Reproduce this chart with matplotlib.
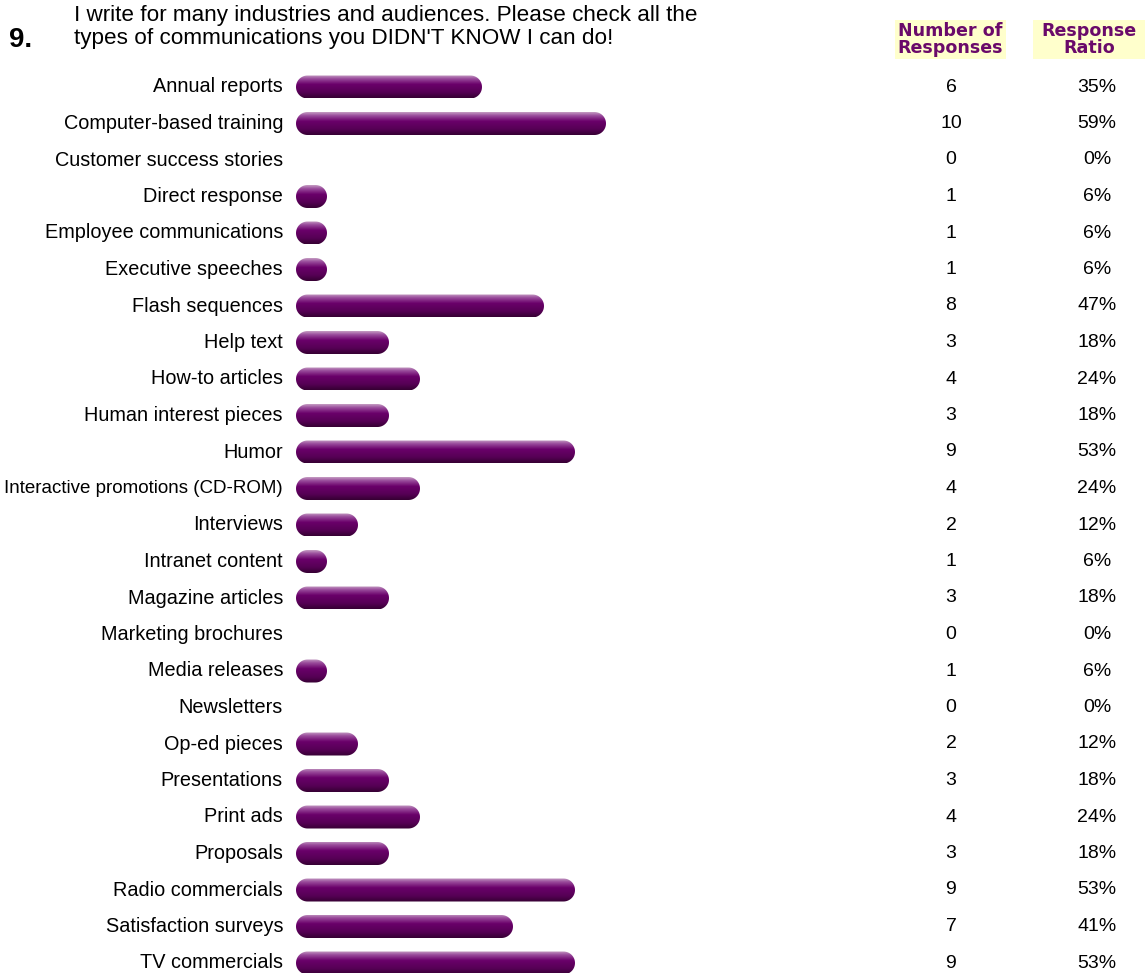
import numpy as np
import matplotlib
matplotlib.use("Agg")
from matplotlib import pyplot as plt
from matplotlib.patches import Polygon, Rectangle
from matplotlib.colors import LinearSegmentedColormap

categories = ["Annual reports", "Computer-based training", "Customer success stories",
              "Direct response", "Employee communications", "Executive speeches",
              "Flash sequences", "Help text", "How-to articles", "Human interest pieces",
              "Humor", "Interactive promotions (CD-ROM)", "Interviews", "Intranet content",
              "Magazine articles", "Marketing brochures", "Media releases", "Newsletters",
              "Op-ed pieces", "Presentations", "Print ads", "Proposals",
              "Radio commercials", "Satisfaction surveys", "TV commercials"]
responses = [6, 10, 0, 1, 1, 1, 8, 3, 4, 3, 9, 4, 2, 1, 3, 0, 1, 0, 2, 3, 4, 3, 9, 7, 9]
ratios = ["35%", "59%", "0%", "6%", "6%", "6%", "47%", "18%", "24%", "18%", "53%", "24%",
          "12%", "6%", "18%", "0%", "6%", "0%", "12%", "18%", "24%", "18%", "53%", "41%", "53%"]

W, H = 1145, 973
fig = plt.figure(figsize=(W / 100, H / 100), dpi=100)
ax = fig.add_axes([0, 0, 1, 1])
ax.axis('off')

# pixel layout: bars start at x=296, ~31px per response, rows 36.5px apart from y=87
px_count = 31.0
px_row = 36.5
x0, y0 = 296, 87

bar_h = 23 / px_row
rx = 11.5 / px_count   # end-cap radius in x units
ry = bar_h / 2

cmap = LinearSegmentedColormap.from_list("bar", [
    (0.0, "#c49bc2"), (0.15, "#9a4c9c"), (0.4, "#6a006a"),
    (0.75, "#560055"), (1.0, "#360033")])
grad = np.linspace(0, 1, 64).reshape(-1, 1)


def pill(x_end, yc):
    t = np.linspace(np.pi / 2, 3 * np.pi / 2, 30)
    left = np.column_stack([rx + rx * np.cos(t), yc - ry * np.sin(t)])
    t2 = np.linspace(-np.pi / 2, np.pi / 2, 30)
    right = np.column_stack([x_end - rx + rx * np.cos(t2), yc - ry * np.sin(t2)])
    return np.vstack([left, right])


rows = np.arange(len(categories))
for i, n in zip(rows, responses):
    if n == 0:
        continue
    patch = Polygon(pill(n, i), closed=True, facecolor="none", edgecolor="none")
    ax.add_patch(patch)
    im = ax.imshow(grad, cmap=cmap, aspect='auto', origin='upper',
                   extent=(0, n, i + bar_h / 2, i - bar_h / 2), interpolation='bilinear')
    im.set_clip_path(patch)

ax.set_xlim(-x0 / px_count, (W - x0) / px_count)
ax.set_ylim((H - y0) / px_row, -y0 / px_row)

tr = ax.get_yaxis_transform()
renderer = fig.canvas.get_renderer()
for i, lab, n, r in zip(rows, categories, responses, ratios):
    t = ax.text(283 / W, i, lab, transform=tr, ha='right', va='center',
                fontsize=14.3, family='Liberation Sans', color='black')
    # shrink a label that would run past the left edge
    bb = t.get_window_extent(renderer)
    if bb.x0 < 2:
        t.set_fontsize(14.3 * 280 / bb.width)
    ax.text(951 / W, i, str(n), transform=tr, ha='center', va='center',
            fontsize=14, family='Liberation Sans', color='black')
    ax.text(1097 / W, i, r, transform=tr, ha='center', va='center',
            fontsize=14, family='Liberation Sans', color='black')

# question title
fig.text(9 / W, 1 - 47 / H, "9.", fontsize=20, fontweight='bold',
         family='Liberation Sans', ha='left', va='baseline')
fig.text(74 / W, 1 - 21 / H, "I write for many industries and audiences. Please check all the",
         fontsize=16.2, family='Liberation Sans', ha='left', va='baseline')
fig.text(74 / W, 1 - 44 / H, "types of communications you DIDN'T KNOW I can do!",
         fontsize=16.2, family='Liberation Sans', ha='left', va='baseline')

# column headers
purple = "#6a0a6a"
for (xl, xr), txt in [((895, 1006), "Number of\nResponses"), ((1033, 1145), "Response\nRatio")]:
    fig.add_artist(Rectangle((xl / W, 1 - 59 / H), (xr - xl) / W, 39 / H,
                             transform=fig.transFigure, facecolor="#ffffcc", edgecolor="none"))
    fig.text((xl + xr) / 2 / W, 1 - 39.5 / H, txt, ha='center', va='center',
             fontsize=12.6, fontweight='bold', family='DejaVu Sans', color=purple,
             linespacing=0.9)

fig.savefig("out.png", dpi=100)
